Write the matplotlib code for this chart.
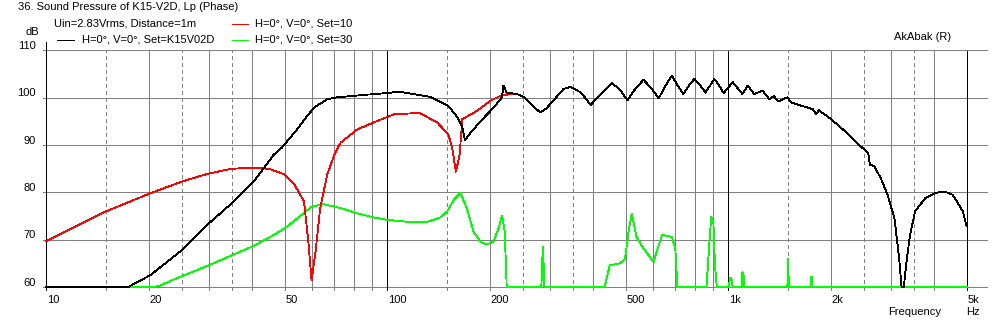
import numpy as np
import matplotlib
matplotlib.use("Agg")
import matplotlib.pyplot as plt
from matplotlib.lines import Line2D
from matplotlib.transforms import blended_transform_factory

plt.rcParams['font.family'] = ['Liberation Sans', 'DejaVu Sans']
plt.rcParams['font.size'] = 8
plt.rcParams['lines.antialiased'] = False

# Set=K15V02D (black)
black_f = [10, 17.4, 20.2, 25, 29.6, 35, 40.6, 46.5, 49, 54.4, 58, 61, 66.6, 71.4, 85, 100, 108, 117,
           134, 151, 161, 166, 169, 175, 188, 205, 217, 219, 224, 240, 252, 266, 281, 293, 307, 329, 345,
           370, 395, 425, 456, 480, 506, 535, 564, 595, 625, 655, 683, 710, 738, 765, 795, 825, 856, 885,
           909, 940, 969, 1030, 1100, 1140, 1190, 1260, 1320, 1360, 1400, 1490, 1530, 1640, 1770, 1810,
           1840, 2000, 2250, 2410, 2570, 2600, 2680, 2800, 2930, 3070, 3170, 3220, 3270, 3330, 3410,
           3530, 3780, 4050, 4300, 4550, 4870, 5000]
black_db = [60, 60, 62.5, 67.8, 73.1, 77.7, 82.3, 88.0, 89.4, 93.3, 96.0, 97.9, 99.7, 100.1, 100.6, 101.0,
            101.3, 100.9, 100.2, 98.3, 95.8, 93.7, 91.0, 92.5, 95.1, 97.9, 100.1, 102.6, 101.1, 100.8,
            100.1, 98.4, 96.9, 97.8, 99.4, 101.9, 102.3, 101.1, 98.5, 101.0, 103.1, 101.8, 99.5, 102.0,
            103.8, 102.0, 99.9, 102.6, 104.7, 102.6, 100.8, 102.5, 104.0, 102.8, 101.1, 102.6, 104.0,
            102.6, 101.0, 103.3, 100.8, 102.6, 100.8, 101.5, 99.7, 100.4, 99.2, 100.1, 99.0, 98.3, 97.6,
            96.5, 97.4, 95.5, 92.3, 90.1, 88.4, 85.9, 85.5, 83.0, 79.5, 74.5, 66.0, 60.0, 60.0, 65.3,
            71.0, 76.0, 78.8, 79.9, 80.2, 79.5, 76.0, 72.8]

# Set=10 (red), below 240 Hz; above it follows the black trace
red_lo_f = [10, 15, 20, 25, 30, 35, 40, 45, 50, 53.5, 57, 58.7, 60, 61.6, 63.6, 66.7, 70, 73, 81.6,
            93.4, 104.6, 117, 125, 140, 151, 155, 159, 163, 166, 183, 201, 217]
red_lo_db = [69.7, 76.0, 79.7, 82.3, 84.0, 85.0, 85.2, 85.0, 83.8, 81.6, 78.1, 69.6, 61.4, 67.4, 76.7,
             83.8, 88.0, 90.5, 93.3, 95.1, 96.5, 96.7, 96.7, 94.8, 92.3, 89.4, 84.4, 88.0, 95.5, 97.2,
             99.4, 100.6]

# Set=30 (green)
green_f = [10, 20.6, 21.4, 25, 30, 35, 40.6, 46.5, 50.3, 54.5, 60, 65, 73, 81.6, 91.3, 100, 114, 131,
           137, 144, 150, 157, 164, 171, 179, 188, 196, 205, 212, 217, 221, 224, 283, 285, 286, 287,
           289, 434, 449, 482, 498, 510, 521, 538, 560, 604, 620, 640, 683, 699, 708, 709, 863, 878,
           891, 904, 914, 925, 1005, 1010, 1020, 1030, 1095, 1100, 1108, 1112, 1490, 1495, 1500, 1505,
           1740, 1750, 1760, 1765, 5000]
green_db = [60, 60, 60.2, 62.3, 64.6, 66.7, 68.7, 71.0, 72.5, 74.5, 77.0, 77.5, 76.7, 75.6, 74.7, 74.2,
            73.8, 73.8, 74.2, 74.8, 76.0, 78.5, 79.9, 76.7, 71.7, 69.5, 69.0, 69.6, 72.4, 75.1, 71.7,
            60, 60, 66.0, 68.5, 66.0, 60, 60, 64.6, 65.0, 66.0, 71.7, 75.5, 70.6, 68.5, 65.3, 68.0,
            71.0, 70.6, 68.2, 61.0, 60, 60, 68.2, 74.9, 73.8, 64.6, 60, 60, 62.0, 62.0, 60, 60, 63.2,
            62.8, 60, 60, 66.0, 64.0, 60, 60, 62.1, 62.1, 60, 60]

red_f = red_lo_f + [f for f in black_f if f >= 240]
red_db = red_lo_db + [d for f, d in zip(black_f, black_db) if f >= 240]

W, H = 993, 324
fig = plt.figure(figsize=(W / 100, H / 100), dpi=100)
fig.patch.set_facecolor('white')
x0, x1, ytop, ybot = 46.2, 966.7, 50.5, 287
ax = fig.add_axes([x0 / W, 1 - ybot / H, (x1 - x0) / W, (ybot - ytop) / H])
ax.set_xscale('log')
ax.set_xlim(10, 5000)
ax.set_ylim(60, 110)
ax.axis('off')

gray = '#808080'
lw = 0.6
# horizontal grid
for v in [60, 70, 80, 90, 100, 110]:
    ax.axhline(v, xmin=-0.004, xmax=1.022, color=gray, lw=lw, clip_on=False, zorder=1)
# vertical grid
solid = [20, 30, 40, 50, 60, 70, 80, 90, 200, 300, 400, 500, 600, 700, 800, 900, 2000, 3000, 4000]
dashed = [15, 25, 35, 150, 250, 350, 1500, 2500, 3500]
for f in solid:
    ax.axvline(f, ymin=-0.014, ymax=1, color=gray, lw=lw, clip_on=False, zorder=1)
for f in dashed:
    ax.axvline(f, ymin=-0.014, ymax=1, color=gray, lw=lw, ls=(0, (4, 4)), clip_on=False, zorder=1)
for f in [100, 1000, 5000]:
    ax.axvline(f, ymin=-0.014, ymax=1, color='black', lw=lw, clip_on=False, zorder=2)
ax.axvline(10, ymin=-0.014, ymax=1.034, color='black', lw=lw, clip_on=False, zorder=2)

ax.plot(green_f, green_db, color='#00ff00', lw=lw, zorder=3, clip_on=False)
ax.plot(red_f, red_db, color='#ff0000', lw=lw, zorder=4, clip_on=False)
ax.plot(black_f, black_db, color='black', lw=lw, zorder=5, clip_on=False)

# tick labels
bx = blended_transform_factory(ax.transData, fig.transFigure)
by = blended_transform_factory(fig.transFigure, ax.transData)
x_ticks = [10, 20, 50, 100, 200, 500, 1000, 2000, 5000]
x_labels = ['10', '20', '50', '100', '200', '500', '1k', '2k', '5k']
for f, s in zip(x_ticks, x_labels):
    ax.text(f * 1.004, 1 - 300 / H, s, transform=bx, ha='left', va='center')
y_ticks = [60, 70, 80, 90, 100, 110]
for v in y_ticks:
    ax.text(35.5 / W, v + 0.3, str(v), transform=by, ha='right', va='baseline')

def ftext(x, y, s, **kw):
    fig.text(x / W, 1 - y / H, s, va='center', **kw)

ftext(18, 7, '36. Sound Pressure of K15-V2D, Lp (Phase)')
ftext(54, 24, 'Uin=2.83Vrms, Distance=1m')
ftext(26, 32, 'dB')
ftext(82, 40, 'H=0°, V=0°, Set=K15V02D')
ftext(255, 24, 'H=0°, V=0°, Set=10')
ftext(255, 40, 'H=0°, V=0°, Set=30')
ftext(894, 37, 'AkAbak (R)')
ftext(888, 312, 'Frequency')
ftext(966, 312, 'Hz')

for (xa, xb, y, c) in [(57, 74, 40, 'black'), (232, 248, 24, '#ff0000'), (232, 248, 40, '#00ff00')]:
    fig.add_artist(Line2D([xa / W, xb / W], [1 - y / H, 1 - y / H], transform=fig.transFigure,
                          color=c, lw=lw))

fig.savefig('out.png', dpi=100)
